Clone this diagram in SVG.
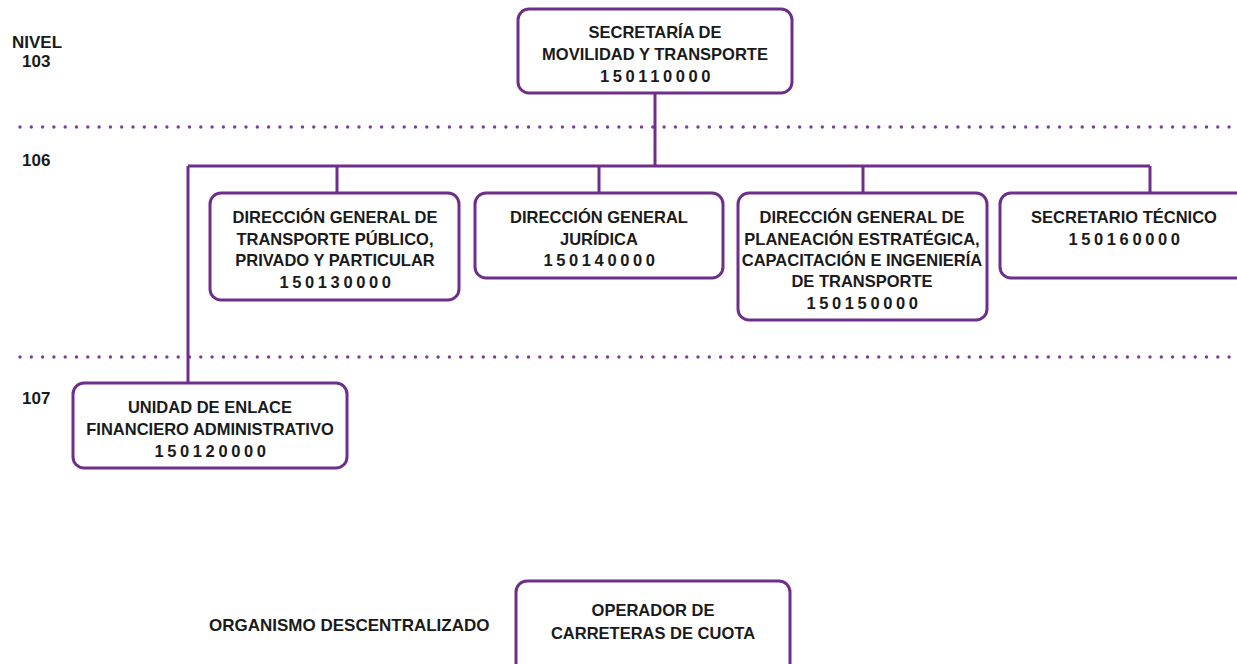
<svg xmlns="http://www.w3.org/2000/svg" width="1237" height="664" viewBox="0 0 1237 664">
<style>
.box{fill:#fff;stroke:#6d2f8a;stroke-width:3}
.ln{fill:none;stroke:#6d2f8a;stroke-width:3}
.dot{fill:none;stroke:#7a3e96;stroke-width:3.4;stroke-linecap:round;stroke-dasharray:0 11.3}
text{font-family:"Liberation Sans",Arial,sans-serif;font-weight:bold;font-size:16.5px;fill:#1a1a1a;text-anchor:middle}
.num{letter-spacing:3.6px}
.lbl{text-anchor:start;font-size:17px}
</style>
<rect width="1237" height="664" fill="#fff"/>
<g id="levels">
<path class="dot" d="M20 127H1237"/>
<path class="dot" d="M20 357H1237"/>
<text class="lbl" x="12" y="48">NIVEL</text>
<text class="lbl" x="22" y="67">103</text>
<text class="lbl" x="22" y="166">106</text>
<text class="lbl" x="22" y="404">107</text>
<text class="lbl" x="209" y="631">ORGANISMO DESCENTRALIZADO</text>
</g>
<g id="connectors">
<path class="ln" d="M655 93V166M188 166H1150M337 166V193M599 166V193M863 166V193M1150 166V193M188 166V383"/>
</g>
<g id="n150110000">
<rect class="box" x="518" y="9" width="274" height="84" rx="11"/>
<text x="655" y="38">SECRETARÍA DE</text>
<text x="655" y="60">MOVILIDAD Y TRANSPORTE</text>
<text class="num" x="657" y="82">150110000</text>
</g>
<g id="n150130000">
<rect class="box" x="210" y="193" width="249" height="107" rx="11"/>
<text x="335" y="223">DIRECCIÓN GENERAL DE</text>
<text x="335" y="245">TRANSPORTE PÚBLICO,</text>
<text x="335" y="266">PRIVADO Y PARTICULAR</text>
<text class="num" x="337" y="288">150130000</text>
</g>
<g id="n150140000">
<rect class="box" x="475" y="193" width="248" height="85" rx="11"/>
<text x="599" y="223">DIRECCIÓN GENERAL</text>
<text x="599" y="245">JURÍDICA</text>
<text class="num" x="601" y="266">150140000</text>
</g>
<g id="n150150000">
<rect class="box" x="738" y="193" width="249" height="127" rx="11"/>
<text x="862" y="223">DIRECCIÓN GENERAL DE</text>
<text x="862" y="245">PLANEACIÓN ESTRATÉGICA,</text>
<text x="862" y="266">CAPACITACIÓN E INGENIERÍA</text>
<text x="862" y="287">DE TRANSPORTE</text>
<text class="num" x="864" y="309">150150000</text>
</g>
<g id="n150160000">
<rect class="box" x="1000" y="193" width="250" height="85" rx="11"/>
<text x="1124" y="223">SECRETARIO TÉCNICO</text>
<text class="num" x="1126" y="245">150160000</text>
</g>
<g id="n150120000">
<rect class="box" x="73" y="383" width="274" height="85" rx="11"/>
<text x="210" y="413">UNIDAD DE ENLACE</text>
<text x="210" y="435">FINANCIERO ADMINISTRATIVO</text>
<text class="num" x="212" y="457">150120000</text>
</g>
<g id="operador">
<rect class="box" x="516" y="581" width="274" height="100" rx="11"/>
<text x="653" y="616">OPERADOR DE</text>
<text x="653" y="639">CARRETERAS DE CUOTA</text>
</g>
</svg>
